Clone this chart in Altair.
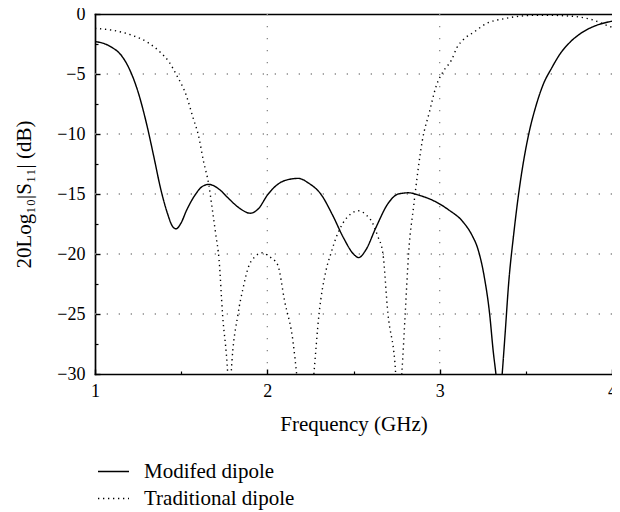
import altair as alt
import pandas as pd

# ---- data ----
mod_f = [1.00, 1.05, 1.10, 1.15, 1.20, 1.25, 1.30, 1.34, 1.38, 1.42, 1.45, 1.47, 1.50, 1.53, 1.58,
         1.62, 1.66, 1.72, 1.77, 1.84, 1.90, 1.95, 2.00, 2.06, 2.12, 2.18, 2.24, 2.31, 2.38, 2.44,
         2.50, 2.53, 2.57, 2.63, 2.70, 2.76, 2.82, 2.88, 2.97, 3.05, 3.14, 3.19, 3.22, 3.26, 3.29,
         3.31, 3.33, 3.345, 3.36, 3.38, 3.40, 3.43, 3.46, 3.49, 3.52, 3.56, 3.60, 3.65, 3.70, 3.76,
         3.82, 3.90, 4.00]
mod_db = [-2.3, -2.45, -2.8, -3.4, -4.6, -6.5, -9.2, -11.8, -14.5, -16.6, -17.7, -17.9, -17.4, -16.4, -15.1,
          -14.4, -14.2, -14.6, -15.3, -16.2, -16.6, -16.2, -15.1, -14.2, -13.8, -13.7, -14.1, -15.0, -16.8, -18.6,
          -20.0, -20.3, -19.7, -17.8, -15.8, -15.0, -14.9, -15.1, -15.6, -16.3, -17.4, -18.5, -19.5, -22.0, -25.0,
          -28.0, -30.5, -33.0, -30.5, -26.6, -22.5, -18.3, -14.8, -12.0, -9.8, -7.6, -5.9, -4.5, -3.3, -2.3,
          -1.6, -1.0, -0.6]

trad_f = [1.00, 1.10, 1.22, 1.31, 1.38, 1.43, 1.47, 1.53, 1.57, 1.60, 1.63, 1.66, 1.68, 1.70, 1.72,
          1.74, 1.77, 1.78, 1.79, 1.83, 1.86, 1.89, 1.93, 1.97, 2.01, 2.06, 2.10, 2.15, 2.17, 2.22,
          2.27, 2.30, 2.34, 2.37, 2.40, 2.44, 2.49, 2.53, 2.57, 2.61, 2.64, 2.67, 2.70, 2.74, 2.76,
          2.78, 2.80, 2.82, 2.85, 2.87, 2.90, 2.94, 2.98, 3.02, 3.07, 3.10, 3.14, 3.20, 3.27, 3.37,
          3.49, 3.60, 3.73, 3.81, 3.89, 3.98, 4.00]
trad_db = [-1.2, -1.35, -1.8, -2.4, -3.2, -4.0, -5.0, -6.8, -8.7, -10.1, -12.3, -14.2, -16.2, -18.3, -20.5,
           -25.0, -30.0, -33.0, -30.0, -25.0, -22.8, -21.1, -20.2, -19.9, -20.2, -20.9, -23.9, -27.4, -30.0, -38.0,
           -30.0, -25.0, -21.4, -19.9, -18.6, -17.4, -16.6, -16.4, -16.7, -17.4, -18.5, -19.9, -25.0, -29.0, -33.0,
           -30.0, -25.0, -19.9, -15.9, -13.5, -10.5, -8.2, -6.0, -4.8, -3.8, -2.8, -2.1, -1.5, -0.8, -0.4,
           -0.15, -0.1, -0.15, -0.25, -0.5, -1.0, -1.1]

series_names = ["Modifed dipole", "Traditional dipole"]

x_major = [1, 2, 3, 4]
x_minor = [1.5, 2.5, 3.5]
y_major = [0, -5, -10, -15, -20, -25, -30]
y_minor = [-2.5, -7.5, -12.5, -17.5, -22.5, -27.5]
x_grid = [2, 3]
y_grid = [-5, -10, -15, -20, -25]
x_range = [1, 4]
y_range = [-30, 0]

# ---- tables ----
df = pd.concat([
    pd.DataFrame({"f": mod_f, "db": mod_db, "series": series_names[0]}),
    pd.DataFrame({"f": trad_f, "db": trad_db, "series": series_names[1]}),
], ignore_index=True)
df["order"] = range(len(df))
corners = pd.DataFrame({"cx": x_range, "cy": y_range})

xs = alt.Scale(domain=x_range, nice=False, zero=False)
ys = alt.Scale(domain=y_range, nice=False, zero=False)

FONT = "Liberation Serif"
FRAME = dict(domain=True, domainColor="black", domainWidth=1.7, domainCap="square",
             ticks=False, labels=False, grid=False, title=None)

# frame: top + left edges
frame_a = alt.Chart(corners).mark_point(opacity=0).encode(
    x=alt.X("cx:Q", scale=xs, axis=alt.Axis(orient="top", **FRAME)),
    y=alt.Y("cy:Q", scale=ys, axis=alt.Axis(orient="left", **FRAME)),
)
# frame: bottom edge
frame_b = alt.Chart(corners).mark_point(opacity=0).encode(
    x=alt.X("cx:Q", scale=xs, axis=alt.Axis(orient="bottom", **FRAME)),
)

vgrid = alt.Chart(pd.DataFrame({"gx": x_grid})).mark_rule(
    color="#8a8a8a", strokeWidth=1.3, strokeDash=[1.3, 10.7]
).encode(
    x=alt.X("gx:Q", scale=xs, axis=alt.Axis(
        orient="bottom", values=x_minor, labels=False, domain=False, grid=False,
        ticks=True, tickSize=3, offset=-3, tickColor="black", tickWidth=1.2, title=None))
)

hgrid = alt.Chart(pd.DataFrame({"gy": y_grid})).mark_rule(
    color="#8a8a8a", strokeWidth=1.3, strokeDash=[1.3, 10.7]
).encode(
    y=alt.Y("gy:Q", scale=ys, axis=alt.Axis(
        orient="left", values=y_minor, labels=False, domain=False, grid=False,
        ticks=True, tickSize=3, offset=-3, tickColor="black", tickWidth=1.2, title=None))
)

lines = alt.Chart(df).mark_line(clip=True, color="black", strokeWidth=1.4, interpolate="monotone").encode(
    x=alt.X("f:Q", scale=xs, axis=alt.Axis(
        orient="bottom", values=x_major, format="d", grid=False, domain=False,
        tickSize=5, offset=-5, tickColor="black", tickWidth=1.4, labelFlush=False,
        labelPadding=8, labelFont=FONT, labelFontSize=18, labelColor="black",
        title="Frequency (GHz)", titleFont=FONT, titleFontSize=21, titleFontWeight="normal",
        titleColor="black", titlePadding=13)),
    y=alt.Y("db:Q", scale=ys, axis=alt.Axis(
        orient="left", values=y_major, format="d", grid=False, domain=False,
        tickSize=5, offset=-5, tickColor="black", tickWidth=1.4, labelFlush=False,
        labelPadding=10, labelFont=FONT, labelFontSize=18, labelColor="black",
        title="20Log₁₀|S₁₁| (dB)", titleFont=FONT, titleFontSize=21, titleFontWeight="normal",
        titleColor="black", titlePadding=22)),
    strokeDash=alt.StrokeDash("series:N", scale=alt.Scale(domain=series_names, range=[[1, 0], [1.3, 3.7]]),
                              legend=alt.Legend(title=None, orient="none", legendX=2, legendY=441,
                                                symbolType="stroke", symbolSize=961,
                                                symbolStrokeWidth=1.3, symbolStrokeColor="black",
                                                labelFont=FONT, labelFontSize=21, labelColor="black",
                                                labelOffset=14, rowPadding=-6, padding=0)),
    detail="series:N",
    order="order:Q",
)

chart = alt.layer(vgrid, hgrid, lines, frame_a, frame_b).resolve_axis(
    x="independent", y="independent"
).properties(
    width=517, height=360,
    autosize=alt.AutoSizeParams(type="none"),
    padding={"left": 87, "top": 6, "right": 0, "bottom": 138},
).configure_view(
    stroke=None
)

chart.save("out.html", embed_options={"renderer": "svg", "actions": False})
